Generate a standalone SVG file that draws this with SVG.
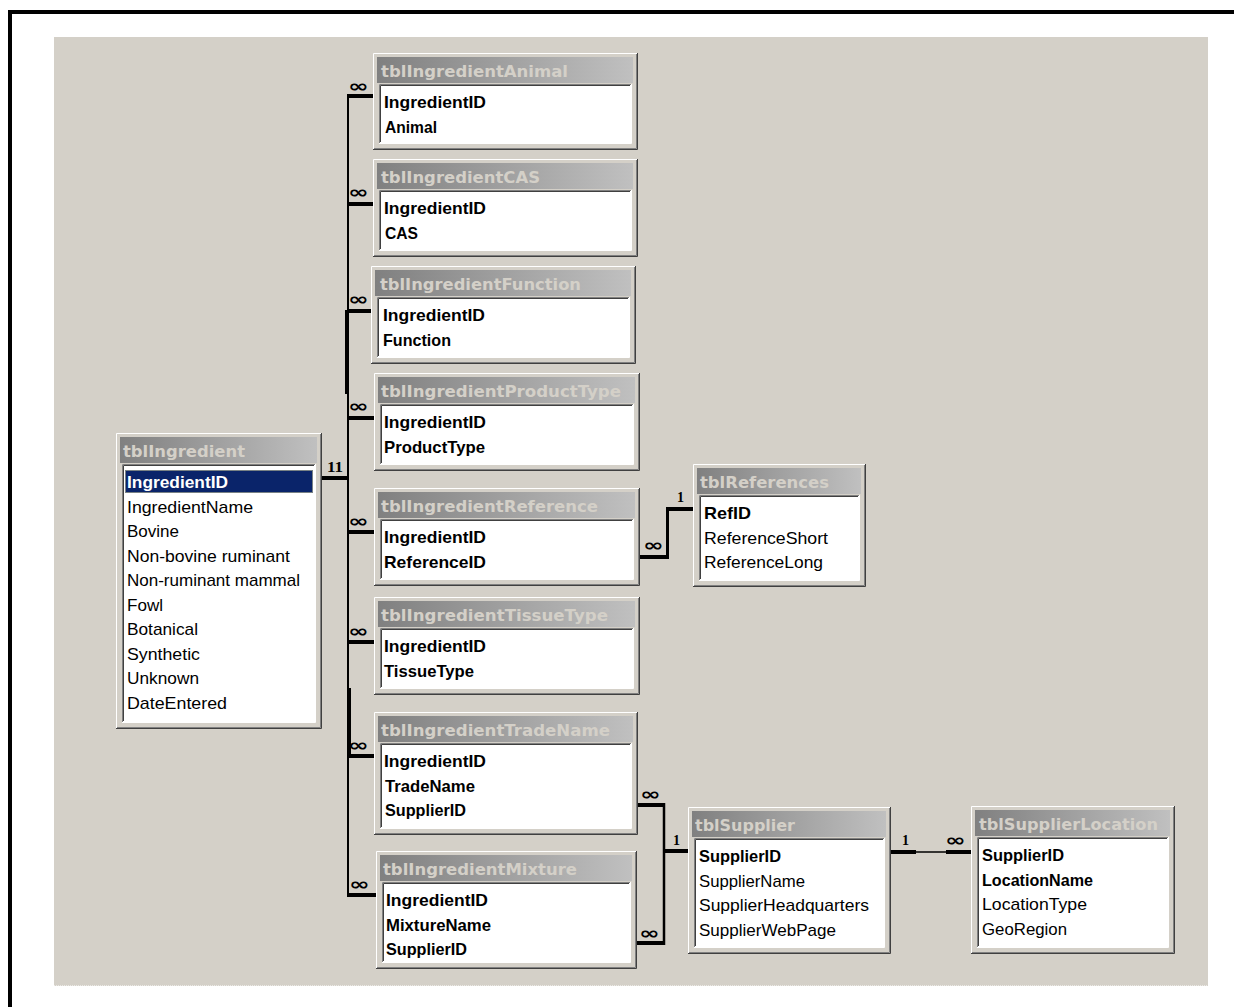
<svg xmlns="http://www.w3.org/2000/svg" width="1234" height="1007" viewBox="0 0 1234 1007">
<defs>
<linearGradient id="hg" x1="0" y1="0" x2="1" y2="0">
<stop offset="0" stop-color="#808080"/>
<stop offset="1" stop-color="#C0C0C0"/>
</linearGradient>
<style>
.face{fill:#D4D0C8}
.hi{fill:none;stroke:#FFFFFF;stroke-width:1}
.d1{fill:none;stroke:#404040;stroke-width:1}
.d2{fill:none;stroke:#808080;stroke-width:1}
.hdr{fill:url(#hg)}
.list{fill:#FFFFFF}
.ht{font-family:"DejaVu Sans",Verdana,sans-serif;font-weight:bold;font-size:16px;fill:#D4D0C8}
.f{font-family:"Liberation Sans",Arial,sans-serif;font-size:17px;fill:#000}
.k{font-family:"Liberation Sans",Arial,sans-serif;font-size:17px;font-weight:bold;fill:#000}
.ln{stroke:#000;fill:none}
.bar{fill:#000}
.inf{font-family:"DejaVu Sans",sans-serif;font-weight:bold;font-size:17px;fill:#000}
.one{font-family:"Liberation Serif",serif;font-weight:bold;font-size:14px;fill:#000}
</style>
</defs>
<rect x="0" y="0" width="1234" height="1007" fill="#FFFFFF"/>
<rect x="54" y="37" width="1154" height="949" fill="#D4D0C8"/>
<line x1="54" y1="985.5" x2="1208" y2="985.5" stroke="#ECEAE6" stroke-width="1" stroke-dasharray="1 1"/>
<path d="M10 1007 V12 H1234" fill="none" stroke="#000" stroke-width="4"/>

<g id="connectors">
<line class="ln" x1="348" y1="95" x2="348" y2="896" stroke-width="2"/>
<line class="ln" x1="346" y1="310" x2="346" y2="394" stroke-width="2"/>
<line class="ln" x1="350" y1="688" x2="350" y2="758" stroke-width="2"/>
<rect class="bar" x="322" y="476" width="27" height="4"/>
<text class="one" x="327" y="472" textLength="16" lengthAdjust="spacingAndGlyphs">11</text>
<rect class="bar" x="347" y="94" width="26" height="4"/>
<rect class="bar" x="347" y="202" width="26" height="4"/>
<rect class="bar" x="347" y="309" width="24" height="4"/>
<rect class="bar" x="347" y="416" width="27" height="4"/>
<rect class="bar" x="347" y="530" width="27" height="4"/>
<rect class="bar" x="347" y="640" width="27" height="4"/>
<rect class="bar" x="347" y="754" width="27" height="4"/>
<rect class="bar" x="347" y="893" width="29" height="4"/>
<text class="inf" x="348" y="92" textLength="21" lengthAdjust="spacingAndGlyphs">∞</text>
<text class="inf" x="348" y="198" textLength="21" lengthAdjust="spacingAndGlyphs">∞</text>
<text class="inf" x="348" y="305" textLength="21" lengthAdjust="spacingAndGlyphs">∞</text>
<text class="inf" x="348" y="412" textLength="21" lengthAdjust="spacingAndGlyphs">∞</text>
<text class="inf" x="348" y="527" textLength="21" lengthAdjust="spacingAndGlyphs">∞</text>
<text class="inf" x="348" y="637" textLength="21" lengthAdjust="spacingAndGlyphs">∞</text>
<text class="inf" x="348" y="751" textLength="21" lengthAdjust="spacingAndGlyphs">∞</text>
<text class="inf" x="349" y="890" textLength="21" lengthAdjust="spacingAndGlyphs">∞</text>

<rect class="bar" x="640" y="555" width="29" height="4"/>
<line class="ln" x1="667.5" y1="507" x2="667.5" y2="559" stroke-width="3"/>
<rect class="bar" x="666" y="507" width="27" height="4"/>
<text class="inf" x="643" y="551" textLength="21" lengthAdjust="spacingAndGlyphs">∞</text>
<text class="one" x="677" y="502">1</text>

<rect class="bar" x="638" y="803" width="27" height="4"/>
<rect class="bar" x="637" y="941" width="28" height="4"/>
<line class="ln" x1="664" y1="803" x2="664" y2="945" stroke-width="2.5"/>
<rect class="bar" x="663" y="849" width="25" height="4"/>
<text class="inf" x="640" y="800" textLength="21" lengthAdjust="spacingAndGlyphs">∞</text>
<text class="inf" x="639" y="939" textLength="21" lengthAdjust="spacingAndGlyphs">∞</text>
<text class="one" x="673" y="845">1</text>

<rect class="bar" x="891" y="850" width="25" height="4"/>
<line class="ln" x1="916" y1="852" x2="946" y2="852" stroke-width="1.5"/>
<rect class="bar" x="946" y="850" width="25" height="4"/>
<text class="one" x="902" y="845">1</text>
<text class="inf" x="945" y="846" textLength="21" lengthAdjust="spacingAndGlyphs">∞</text>
</g>

<g id="tblIngredient" transform="translate(116,433)">
<rect class="face" width="206" height="296"/>
<path class="hi" d="M0.5 295 V0.5 H205"/>
<path class="d1" d="M0 295.5 H205.5 V0"/>
<path class="d2" d="M1 294.5 H204.5 V1"/>
<rect class="hdr" x="4" y="4" width="197" height="26"/>
<rect class="list" x="6" y="31" width="193" height="258"/>
<path class="d2" d="M6.5 289 V31.5 H199"/>
<path class="d1" d="M7.5 288 V32.5 H198"/>
<path class="hi" d="M6 289.5 H199.5 V31"/>
<text class="ht" x="7" y="23.5" textLength="122" lengthAdjust="spacingAndGlyphs">tblIngredient</text>
<rect x="9" y="37" width="188" height="23" fill="#0A246A"/>
<rect x="9.5" y="37.5" width="187" height="22" fill="none" stroke="#E8E0A0" stroke-width="1" stroke-dasharray="1 1"/>
<text class="k" x="11" y="55" fill="#FFFFFF" style="fill:#FFFFFF" textLength="101" lengthAdjust="spacingAndGlyphs">IngredientID</text>
<text class="f" x="11" y="79.5" textLength="126" lengthAdjust="spacingAndGlyphs">IngredientName</text>
<text class="f" x="11" y="104" textLength="52" lengthAdjust="spacingAndGlyphs">Bovine</text>
<text class="f" x="11" y="128.5" textLength="163" lengthAdjust="spacingAndGlyphs">Non-bovine ruminant</text>
<text class="f" x="11" y="153" textLength="173" lengthAdjust="spacingAndGlyphs">Non-ruminant mammal</text>
<text class="f" x="11" y="177.5" textLength="36" lengthAdjust="spacingAndGlyphs">Fowl</text>
<text class="f" x="11" y="202" textLength="71" lengthAdjust="spacingAndGlyphs">Botanical</text>
<text class="f" x="11" y="226.5" textLength="73" lengthAdjust="spacingAndGlyphs">Synthetic</text>
<text class="f" x="11" y="251" textLength="72" lengthAdjust="spacingAndGlyphs">Unknown</text>
<text class="f" x="11" y="275.5" textLength="100" lengthAdjust="spacingAndGlyphs">DateEntered</text>
</g>

<g id="tblIngredientAnimal" transform="translate(373,53)">
<rect class="face" width="265" height="97"/>
<path class="hi" d="M0.5 96 V0.5 H264"/>
<path class="d1" d="M0 96.5 H264.5 V0"/>
<path class="d2" d="M1 95.5 H263.5 V1"/>
<rect class="hdr" x="4" y="4" width="256" height="26"/>
<rect class="list" x="6" y="31" width="252" height="59"/>
<path class="d2" d="M6.5 90 V31.5 H258"/>
<path class="d1" d="M7.5 89 V32.5 H257"/>
<path class="hi" d="M6 90.5 H258.5 V31"/>
<text class="ht" x="8" y="23.5" textLength="187" lengthAdjust="spacingAndGlyphs">tblIngredientAnimal</text>
<text class="k" x="11" y="55" textLength="102" lengthAdjust="spacingAndGlyphs">IngredientID</text>
<text class="k" x="12" y="79.5" textLength="52" lengthAdjust="spacingAndGlyphs">Animal</text>
</g>

<g id="tblIngredientCAS" transform="translate(373,159)">
<rect class="face" width="265" height="98"/>
<path class="hi" d="M0.5 97 V0.5 H264"/>
<path class="d1" d="M0 97.5 H264.5 V0"/>
<path class="d2" d="M1 96.5 H263.5 V1"/>
<rect class="hdr" x="4" y="4" width="256" height="26"/>
<rect class="list" x="6" y="31" width="252" height="60"/>
<path class="d2" d="M6.5 91 V31.5 H258"/>
<path class="d1" d="M7.5 90 V32.5 H257"/>
<path class="hi" d="M6 91.5 H258.5 V31"/>
<text class="ht" x="8" y="23.5" textLength="159" lengthAdjust="spacingAndGlyphs">tblIngredientCAS</text>
<text class="k" x="11" y="55" textLength="102" lengthAdjust="spacingAndGlyphs">IngredientID</text>
<text class="k" x="12" y="79.5" textLength="33" lengthAdjust="spacingAndGlyphs">CAS</text>
</g>

<g id="tblIngredientFunction" transform="translate(371,266)">
<rect class="face" width="265" height="98"/>
<path class="hi" d="M0.5 97 V0.5 H264"/>
<path class="d1" d="M0 97.5 H264.5 V0"/>
<path class="d2" d="M1 96.5 H263.5 V1"/>
<rect class="hdr" x="4" y="4" width="256" height="26"/>
<rect class="list" x="6" y="31" width="252" height="60"/>
<path class="d2" d="M6.5 91 V31.5 H258"/>
<path class="d1" d="M7.5 90 V32.5 H257"/>
<path class="hi" d="M6 91.5 H258.5 V31"/>
<text class="ht" x="9" y="23.5" textLength="201" lengthAdjust="spacingAndGlyphs">tblIngredientFunction</text>
<text class="k" x="12" y="55" textLength="102" lengthAdjust="spacingAndGlyphs">IngredientID</text>
<text class="k" x="12" y="79.5" textLength="68" lengthAdjust="spacingAndGlyphs">Function</text>
</g>

<g id="tblIngredientProductType" transform="translate(374,373)">
<rect class="face" width="266" height="98"/>
<path class="hi" d="M0.5 97 V0.5 H265"/>
<path class="d1" d="M0 97.5 H265.5 V0"/>
<path class="d2" d="M1 96.5 H264.5 V1"/>
<rect class="hdr" x="4" y="4" width="257" height="26"/>
<rect class="list" x="6" y="31" width="253" height="60"/>
<path class="d2" d="M6.5 91 V31.5 H259"/>
<path class="d1" d="M7.5 90 V32.5 H258"/>
<path class="hi" d="M6 91.5 H259.5 V31"/>
<text class="ht" x="7" y="23.5" textLength="240" lengthAdjust="spacingAndGlyphs">tblIngredientProductType</text>
<text class="k" x="10" y="55" textLength="102" lengthAdjust="spacingAndGlyphs">IngredientID</text>
<text class="k" x="10" y="79.5" textLength="101" lengthAdjust="spacingAndGlyphs">ProductType</text>
</g>

<g id="tblIngredientReference" transform="translate(374,488)">
<rect class="face" width="266" height="98"/>
<path class="hi" d="M0.5 97 V0.5 H265"/>
<path class="d1" d="M0 97.5 H265.5 V0"/>
<path class="d2" d="M1 96.5 H264.5 V1"/>
<rect class="hdr" x="4" y="4" width="257" height="26"/>
<rect class="list" x="6" y="31" width="253" height="60"/>
<path class="d2" d="M6.5 91 V31.5 H259"/>
<path class="d1" d="M7.5 90 V32.5 H258"/>
<path class="hi" d="M6 91.5 H259.5 V31"/>
<text class="ht" x="7" y="23.5" textLength="217" lengthAdjust="spacingAndGlyphs">tblIngredientReference</text>
<text class="k" x="10" y="55" textLength="102" lengthAdjust="spacingAndGlyphs">IngredientID</text>
<text class="k" x="10" y="79.5" textLength="102" lengthAdjust="spacingAndGlyphs">ReferenceID</text>
</g>

<g id="tblIngredientTissueType" transform="translate(374,597)">
<rect class="face" width="266" height="98"/>
<path class="hi" d="M0.5 97 V0.5 H265"/>
<path class="d1" d="M0 97.5 H265.5 V0"/>
<path class="d2" d="M1 96.5 H264.5 V1"/>
<rect class="hdr" x="4" y="4" width="257" height="26"/>
<rect class="list" x="6" y="31" width="253" height="60"/>
<path class="d2" d="M6.5 91 V31.5 H259"/>
<path class="d1" d="M7.5 90 V32.5 H258"/>
<path class="hi" d="M6 91.5 H259.5 V31"/>
<text class="ht" x="7" y="23.5" textLength="227" lengthAdjust="spacingAndGlyphs">tblIngredientTissueType</text>
<text class="k" x="10" y="55" textLength="102" lengthAdjust="spacingAndGlyphs">IngredientID</text>
<text class="k" x="10" y="79.5" textLength="90" lengthAdjust="spacingAndGlyphs">TissueType</text>
</g>

<g id="tblIngredientTradeName" transform="translate(374,712)">
<rect class="face" width="264" height="123"/>
<path class="hi" d="M0.5 122 V0.5 H263"/>
<path class="d1" d="M0 122.5 H263.5 V0"/>
<path class="d2" d="M1 121.5 H262.5 V1"/>
<rect class="hdr" x="4" y="4" width="255" height="26"/>
<rect class="list" x="6" y="31" width="251" height="85"/>
<path class="d2" d="M6.5 116 V31.5 H257"/>
<path class="d1" d="M7.5 115 V32.5 H256"/>
<path class="hi" d="M6 116.5 H257.5 V31"/>
<text class="ht" x="7" y="23.5" textLength="229" lengthAdjust="spacingAndGlyphs">tblIngredientTradeName</text>
<text class="k" x="10" y="55" textLength="102" lengthAdjust="spacingAndGlyphs">IngredientID</text>
<text class="k" x="11" y="79.5" textLength="90" lengthAdjust="spacingAndGlyphs">TradeName</text>
<text class="k" x="11" y="104" textLength="81" lengthAdjust="spacingAndGlyphs">SupplierID</text>
</g>

<g id="tblIngredientMixture" transform="translate(376,851)">
<rect class="face" width="261" height="118"/>
<path class="hi" d="M0.5 117 V0.5 H260"/>
<path class="d1" d="M0 117.5 H260.5 V0"/>
<path class="d2" d="M1 116.5 H259.5 V1"/>
<rect class="hdr" x="4" y="4" width="252" height="26"/>
<rect class="list" x="6" y="31" width="248" height="80"/>
<path class="d2" d="M6.5 111 V31.5 H254"/>
<path class="d1" d="M7.5 110 V32.5 H253"/>
<path class="hi" d="M6 111.5 H254.5 V31"/>
<text class="ht" x="7" y="23.5" textLength="194" lengthAdjust="spacingAndGlyphs">tblIngredientMixture</text>
<text class="k" x="10" y="55" textLength="102" lengthAdjust="spacingAndGlyphs">IngredientID</text>
<text class="k" x="10" y="79.5" textLength="105" lengthAdjust="spacingAndGlyphs">MixtureName</text>
<text class="k" x="10" y="104" textLength="81" lengthAdjust="spacingAndGlyphs">SupplierID</text>
</g>

<g id="tblReferences" transform="translate(693,464)">
<rect class="face" width="173" height="123"/>
<path class="hi" d="M0.5 122 V0.5 H172"/>
<path class="d1" d="M0 122.5 H172.5 V0"/>
<path class="d2" d="M1 121.5 H171.5 V1"/>
<rect class="hdr" x="4" y="4" width="164" height="26"/>
<rect class="list" x="6" y="31" width="160" height="85"/>
<path class="d2" d="M6.5 116 V31.5 H166"/>
<path class="d1" d="M7.5 115 V32.5 H165"/>
<path class="hi" d="M6 116.5 H166.5 V31"/>
<text class="ht" x="7" y="23.5" textLength="129" lengthAdjust="spacingAndGlyphs">tblReferences</text>
<text class="k" x="11" y="55" textLength="47" lengthAdjust="spacingAndGlyphs">RefID</text>
<text class="f" x="11" y="79.5" textLength="124" lengthAdjust="spacingAndGlyphs">ReferenceShort</text>
<text class="f" x="11" y="104" textLength="119" lengthAdjust="spacingAndGlyphs">ReferenceLong</text>
</g>

<g id="tblSupplier" transform="translate(688,807)">
<rect class="face" width="203" height="147"/>
<path class="hi" d="M0.5 146 V0.5 H202"/>
<path class="d1" d="M0 146.5 H202.5 V0"/>
<path class="d2" d="M1 145.5 H201.5 V1"/>
<rect class="hdr" x="4" y="4" width="194" height="26"/>
<rect class="list" x="6" y="31" width="190" height="109"/>
<path class="d2" d="M6.5 140 V31.5 H196"/>
<path class="d1" d="M7.5 139 V32.5 H195"/>
<path class="hi" d="M6 140.5 H196.5 V31"/>
<text class="ht" x="7" y="23.5" textLength="100" lengthAdjust="spacingAndGlyphs">tblSupplier</text>
<text class="k" x="11" y="55" textLength="82" lengthAdjust="spacingAndGlyphs">SupplierID</text>
<text class="f" x="11" y="79.5" textLength="106" lengthAdjust="spacingAndGlyphs">SupplierName</text>
<text class="f" x="11" y="104" textLength="170" lengthAdjust="spacingAndGlyphs">SupplierHeadquarters</text>
<text class="f" x="11" y="128.5" textLength="137" lengthAdjust="spacingAndGlyphs">SupplierWebPage</text>
</g>

<g id="tblSupplierLocation" transform="translate(971,806)">
<rect class="face" width="204" height="148"/>
<path class="hi" d="M0.5 147 V0.5 H203"/>
<path class="d1" d="M0 147.5 H203.5 V0"/>
<path class="d2" d="M1 146.5 H202.5 V1"/>
<rect class="hdr" x="4" y="4" width="195" height="26"/>
<rect class="list" x="6" y="31" width="191" height="110"/>
<path class="d2" d="M6.5 141 V31.5 H197"/>
<path class="d1" d="M7.5 140 V32.5 H196"/>
<path class="hi" d="M6 141.5 H197.5 V31"/>
<text class="ht" x="8" y="23.5" textLength="179" lengthAdjust="spacingAndGlyphs">tblSupplierLocation</text>
<text class="k" x="11" y="55" textLength="82" lengthAdjust="spacingAndGlyphs">SupplierID</text>
<text class="k" x="11" y="79.5" textLength="111" lengthAdjust="spacingAndGlyphs">LocationName</text>
<text class="f" x="11" y="104" textLength="105" lengthAdjust="spacingAndGlyphs">LocationType</text>
<text class="f" x="11" y="128.5" textLength="85" lengthAdjust="spacingAndGlyphs">GeoRegion</text>
</g>
</svg>
